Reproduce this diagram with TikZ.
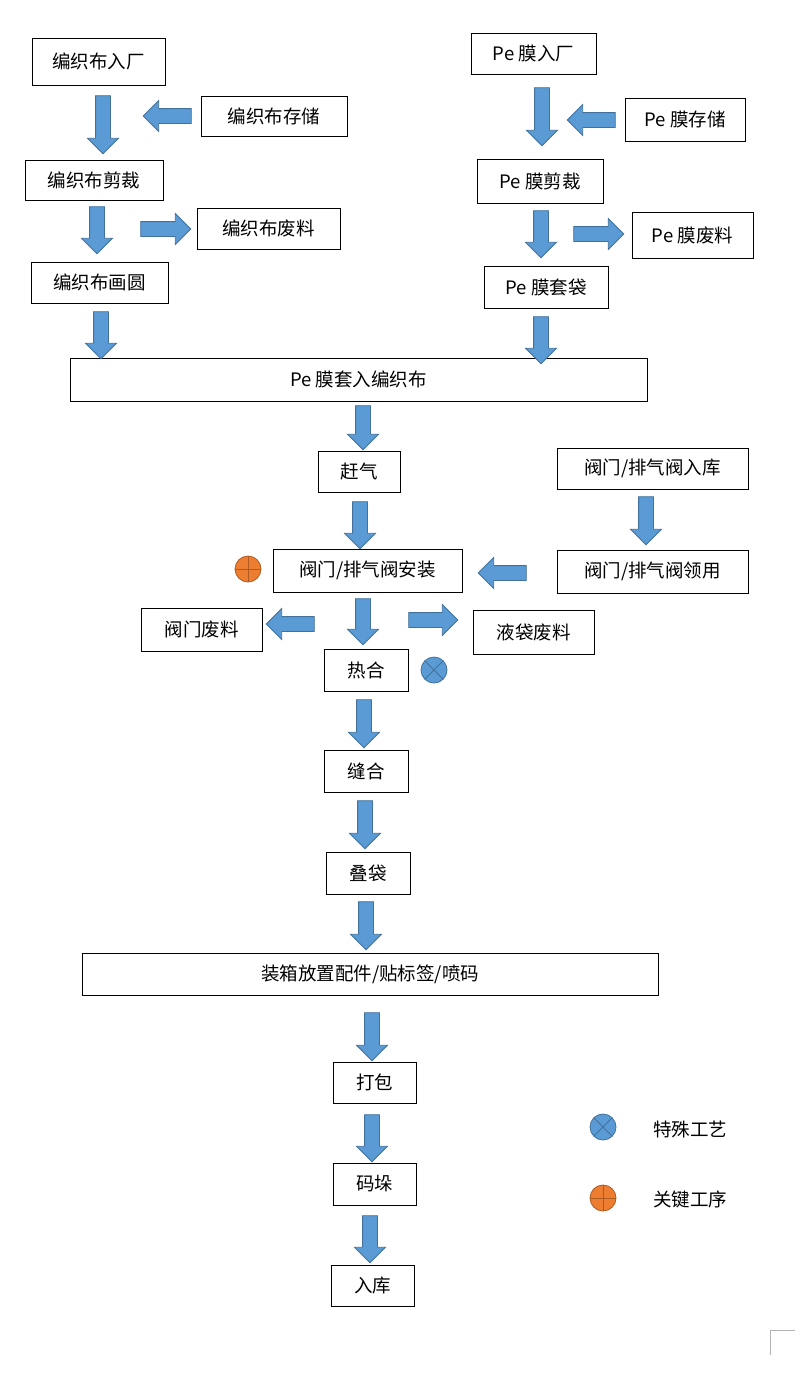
\documentclass[tikz,border=0pt]{standalone}
\usepackage{fontspec}
\setmainfont{Noto Sans CJK SC}
\usetikzlibrary{shapes.arrows}
\definecolor{af}{HTML}{5B9BD5}
\definecolor{ab}{HTML}{41719C}
\definecolor{og}{HTML}{ED7D31}
\definecolor{ob}{HTML}{AE5A21}
\begin{document}
\begin{tikzpicture}[x=1pt,y=-1pt,
 box/.style={draw=black,line width=0.8pt,font=\fontsize{18.5}{18.5}\selectfont,inner sep=0},
 arr/.style={single arrow,fill=af,draw=ab,line width=0.8pt,inner sep=7pt,single arrow head extend=8pt,minimum height=#1,anchor=center},
 ky/.style={circle,minimum size=26pt,inner sep=0,fill=og,draw=ob,line width=0.8pt,path picture={\draw[ob,line width=0.8pt](path picture bounding box.north)--(path picture bounding box.south)(path picture bounding box.west)--(path picture bounding box.east);}},
 sp/.style={circle,minimum size=26pt,inner sep=0,fill=af,draw=ab,line width=0.8pt,path picture={\draw[ab,line width=0.8pt](path picture bounding box.north west)--(path picture bounding box.south east)(path picture bounding box.south west)--(path picture bounding box.north east);}}]
\useasboundingbox (0,0) rectangle (800,1384);
\newcommand\bx[6]{\node[box,minimum width=#4-#2,minimum height=#5-#3] (#1) at ({(#2+#4)/2},{(#3+#5)/2}) {#6};}
\bx{a1}{32}{38}{165}{85}{编织布入厂}
\bx{a2}{201}{96}{347}{136}{编织布存储}
\bx{a3}{25}{160}{163}{200}{编织布剪裁}
\bx{a4}{197}{208}{340}{249}{编织布废料}
\bx{a5}{31}{262}{168}{303}{编织布画圆}
\bx{b1}{471}{33}{596}{74}{Pe 膜入厂}
\bx{b2}{625}{98}{745}{141}{Pe 膜存储}
\bx{b3}{477}{159}{603}{203}{Pe 膜剪裁}
\bx{b4}{632}{212}{753}{258}{Pe 膜废料}
\bx{b5}{484}{266}{608}{308}{Pe 膜套袋}
\bx{c1}{70}{358}{647}{401}{Pe 膜套入编织布}
\bx{c2}{318}{451}{400}{492}{赶气}
\bx{d1}{557}{448}{748}{489}{阀门/排气阀入库}
\bx{c3}{273}{549}{462}{592}{阀门/排气阀安装}
\bx{d2}{557}{550}{748}{593}{阀门/排气阀领用}
\bx{w1}{141}{608}{262}{651}{阀门废料}
\bx{w2}{473}{610}{594}{654}{液袋废料}
\bx{c4}{324}{649}{408}{691}{热合}
\bx{c5}{324}{750}{408}{792}{缝合}
\bx{c6}{326}{852}{410}{894}{叠袋}
\bx{c7}{82}{953}{658}{995}{装箱放置配件/贴标签/喷码}
\bx{c8}{333}{1062}{416}{1103}{打包}
\bx{c9}{333}{1163}{416}{1205}{码垛}
\bx{c10}{331}{1265}{414}{1306}{入库}
\newcommand\da[4]{\node[arr={#4-#3},shape border rotate=270] (#1) at (#2,{(#3+#4)/2}) {};}
\newcommand\la[4]{\node[arr={#3-#2},shape border rotate=180] (#1) at ({(#2+#3)/2},#4) {};}
\newcommand\ra[4]{\node[arr={#3-#2}] (#1) at ({(#2+#3)/2},#4) {};}
\da{r1}{103}{92}{150}
\la{r2}{147}{195}{116}
\da{r3}{97}{203}{250}
\ra{r4}{137}{187}{229}
\da{r5}{101}{308}{355}
\da{r6}{542}{84}{142}
\la{r7}{571}{619}{120}
\da{r8}{541}{207}{254}
\ra{r9}{570}{620}{234}
\da{r10}{541}{313}{360}
\da{r11}{363}{402}{446}
\da{r12}{646}{493}{541}
\da{r13}{360}{498}{545}
\la{r14}{482}{530}{573}
\da{r15}{363}{595}{641}
\la{r16}{270}{318}{624}
\ra{r17}{405}{454}{620}
\da{r18}{364}{696}{744}
\da{r19}{365}{797}{845}
\da{r20}{366}{898}{946}
\da{r21}{372}{1009}{1057}
\da{r22}{372}{1111}{1158}
\da{r23}{370}{1212}{1259}
\node[ky] (k1) at (248,569) {};
\node[sp] (s1) at (434,670) {};
\node[sp] (s2) at (603,1127) {};
\node[ky] (k2) at (603,1198) {};
\node[font=\fontsize{18.5}{18.5}\selectfont] (l1) at (690,1129) {特殊工艺};
\node[font=\fontsize{18.5}{18.5}\selectfont] (l2) at (690,1199) {关键工序};
\draw[gray!60,line width=0.8pt] (770,1330) -- (795,1330) (770,1330) -- (770,1355);
\end{tikzpicture}
\end{document}
